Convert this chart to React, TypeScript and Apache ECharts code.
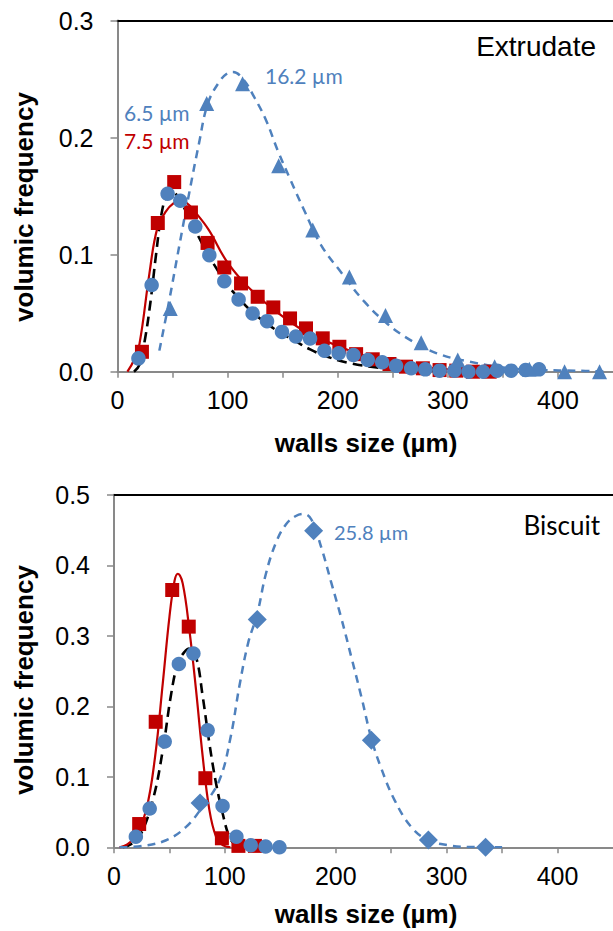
import React, { useEffect, useRef } from "react";
import * as echarts from "echarts";

// ---------- Top panel (Extrudate) ----------
const topCirclesX = [19, 31, 45.5, 57, 70.6, 83.4, 97, 110, 122.7, 135.8, 149.4, 162, 174.9, 187.9, 200.9, 214.3, 227.3, 240.4, 253, 266.7, 279.5, 292.5, 306, 318.8, 332, 344.8, 357.5, 370.6, 382.8];
const topCirclesY = [0.0114, 0.074, 0.152, 0.146, 0.124, 0.0995, 0.0773, 0.0617, 0.0498, 0.0432, 0.034, 0.03, 0.0283, 0.0179, 0.0157, 0.0142, 0.01, 0.008, 0.005, 0.0029, 0.002, 0.0009, 0.0009, 0, 0, 0.0009, 0.0009, 0.0014, 0.002];
const topSquaresX = [22.2, 36.6, 51.5, 66.7, 81.8, 97, 112.2, 127.3, 141.5, 156.7, 171.2, 186.4, 201.5, 216.7, 231.8, 247, 262, 277.3, 292.5, 307.7, 322.8, 338];
const topSquaresY = [0.017, 0.127, 0.162, 0.136, 0.11, 0.089, 0.0754, 0.064, 0.0549, 0.0455, 0.037, 0.0285, 0.0213, 0.015, 0.0106, 0.0066, 0.0043, 0.0029, 0.0014, 0.0009, 0, 0];
const topTrianglesX = [47.9, 81, 113.6, 146.4, 177.3, 210.6, 243.4, 275.8, 309, 342.5, 374, 406, 437.8];
const topTrianglesY = [0.054, 0.229, 0.246, 0.176, 0.121, 0.081, 0.048, 0.0247, 0.01, 0.0043, 0.002, 0, 0];

const topBlackCurve = [[15, 0], [20, 0.006], [25, 0.028], [30, 0.06], [35, 0.1], [40, 0.135], [45, 0.151], [50, 0.154], [55, 0.149], [60, 0.141], [70, 0.122], [80, 0.104], [90, 0.088], [100, 0.074], [110, 0.063], [120, 0.053], [130, 0.045], [145, 0.035], [160, 0.027], [175, 0.019], [190, 0.013], [210, 0.0075], [230, 0.0043], [250, 0.0025], [270, 0.0014], [300, 0.0005], [330, 0]];
const topRedCurve = [[9, 0], [15, 0.01], [20, 0.024], [29, 0.084], [36, 0.122], [44, 0.137], [51, 0.144], [57, 0.146], [63, 0.144], [70, 0.137], [83, 0.121], [98, 0.096], [113, 0.078], [128, 0.064], [146, 0.05], [164, 0.038], [180, 0.03], [200, 0.022], [220, 0.015], [240, 0.01], [260, 0.006], [280, 0.0035], [300, 0.002], [320, 0.001], [340, 0]];
const topBlueCurve = [[38, 0.018], [47, 0.061], [56, 0.107], [65, 0.152], [74, 0.195], [82, 0.229], [92, 0.247], [100, 0.255], [105, 0.256], [114, 0.25], [124.5, 0.234], [135, 0.2146], [145.5, 0.189], [157.5, 0.163], [169, 0.139], [185, 0.108], [203, 0.085], [224, 0.06], [245, 0.041], [266, 0.027], [290, 0.0157], [320, 0.0085], [356, 0.003], [386, 0.0014], [416, 0.0009], [444, 0]];

// ---------- Bottom panel (Biscuit) ----------
const botSquaresX = [22.7, 37.6, 52.5, 67.4, 82.4, 97.3, 112.2, 127.1];
const botSquaresY = [0.033, 0.178, 0.365, 0.313, 0.098, 0.0128, 0.002, 0.002];
const botCirclesX = [19.7, 32.2, 45.7, 58.5, 71.6, 84.4, 97.9, 110.4, 123.3, 136.7, 149.2];
const botCirclesY = [0.015, 0.055, 0.15, 0.26, 0.275, 0.166, 0.0586, 0.015, 0.003, 0.001, 0];
const botDiamondsX = [77.6, 129.2, 180, 232.1, 283.5, 335.1];
const botDiamondsY = [0.063, 0.323, 0.449, 0.152, 0.0104, 0];

const botRedCurve = [[5, 0], [12, 0.004], [19, 0.015], [29, 0.053], [37, 0.128], [44, 0.233], [50, 0.327], [54.6, 0.378], [57.6, 0.388], [62, 0.374], [68, 0.308], [74, 0.223], [80, 0.1285], [86, 0.053], [92, 0.015], [98, 0.003], [105, 0]];
const botBlackCurve = [[8, 0], [15, 0.004], [23, 0.015], [35, 0.067], [44, 0.138], [51.6, 0.218], [57.6, 0.261], [63.5, 0.277], [68, 0.282], [74, 0.27], [80, 0.214], [86, 0.1475], [92, 0.091], [98, 0.048], [104, 0.015], [110, 0.003], [116, 0]];
const botBlueCurve = [[5, 0], [26, 0.002], [47, 0.01], [65, 0.029], [80, 0.058], [95, 0.095], [105, 0.155], [113, 0.228], [121, 0.29], [129, 0.33], [137, 0.388], [146, 0.432], [155, 0.458], [164, 0.47], [171, 0.473], [178, 0.465], [187, 0.425], [196, 0.375], [205, 0.325], [214, 0.27], [223, 0.214], [232, 0.155], [241, 0.112], [253, 0.067], [268, 0.029], [283, 0.0104], [301, 0.003], [320, 0.0005], [350, 0]];

const xMax = 450;
const topYMax = 0.3;
const botYMax = 0.5;

const BLUE = "#4F81BD";
const RED = "#C00000";
const AXIS_GREY = "#898989";

const zip = (xs: number[], ys: number[]) => xs.map((x, i) => [x, ys[i]]);

export default function App() {
  const ref = useRef<HTMLDivElement>(null);
  useEffect(() => {
    if (!ref.current) return;
    const chart = echarts.init(ref.current, null, { renderer: "svg" });

    const mkX = (gridIndex: number) => ({
      type: "value",
      gridIndex,
      min: 0,
      max: xMax,
      interval: 50,
      axisLine: { show: true, onZero: false, lineStyle: { color: AXIS_GREY, width: 2 } },
      axisTick: { show: true, inside: false, length: 6, lineStyle: { color: AXIS_GREY, width: 1.5 } },
      axisLabel: {
        margin: 16,
        fontFamily: "Liberation Sans",
        fontSize: 25,
        color: "#000",
        formatter: (v: number) => (v % 100 === 0 && v < 450 ? String(v) : ""),
        showMaxLabel: false,
      },
      splitLine: { show: false },
    });
    const mkTopBorder = (gridIndex: number) => ({
      type: "value",
      gridIndex,
      position: "top",
      min: 0,
      max: xMax,
      axisLine: { show: true, onZero: false, lineStyle: { color: "#000", width: 2 } },
      axisTick: { show: false },
      axisLabel: { show: false },
      splitLine: { show: false },
    });
    const mkY = (gridIndex: number, max: number) => ({
      type: "value",
      gridIndex,
      min: 0,
      max,
      interval: 0.1,
      axisLine: { show: true, onZero: false, lineStyle: { color: AXIS_GREY, width: 2 } },
      axisTick: { show: true, inside: false, length: 7, lineStyle: { color: AXIS_GREY, width: 1.5 } },
      axisLabel: {
        margin: 24,
        fontFamily: "Liberation Sans",
        fontSize: 25,
        color: "#000",
        formatter: (v: number) => v.toFixed(1),
      },
      splitLine: { show: false },
    });

    const curve = (data: number[][], xi: number, color: string, type: any, width: number) => ({
      type: "line",
      xAxisIndex: xi,
      yAxisIndex: xi === 0 ? 0 : 1,
      data,
      smooth: 0.4,
      showSymbol: false,
      symbol: "none",
      lineStyle: { color, type, width },
      z: 2,
      silent: true,
    });
    const marks = (data: number[][], xi: number, color: string, symbol: string, size: number) => ({
      type: "scatter",
      xAxisIndex: xi,
      yAxisIndex: xi === 0 ? 0 : 1,
      data,
      symbol,
      symbolSize: size,
      itemStyle: { color, opacity: 1 },
      z: 3,
      silent: true,
    });

    const txt = (text: string, x: number, y: number, font: string, fill: string, align: string, rotation = 0) => ({
      type: "text",
      x,
      y,
      rotation,
      silent: true,
      style: {
        text,
        x: 0,
        y: 0,
        font,
        fill,
        align,
        textAlign: align,
        verticalAlign: "middle",
        textVerticalAlign: "middle",
      },
    });

    chart.setOption({
      animation: false,
      grid: [
        { left: 117.5, top: 20.5, width: 499.5, height: 351.2, containLabel: false },
        { left: 114, top: 494.8, width: 502.6, height: 352.5, containLabel: false },
      ],
      xAxis: [mkX(0), mkX(1), mkTopBorder(0), mkTopBorder(1)],
      yAxis: [mkY(0, topYMax), mkY(1, botYMax)],
      series: [
        curve(topBlackCurve, 0, "#000", [10, 6], 2.6),
        curve(topRedCurve, 0, RED, "solid", 2.2),
        curve(topBlueCurve, 0, BLUE, [8, 6], 2.5),
        marks(zip(topSquaresX, topSquaresY), 0, RED, "rect", 14),
        marks(zip(topCirclesX, topCirclesY), 0, BLUE, "circle", 14.5),
        marks(zip(topTrianglesX, topTrianglesY), 0, BLUE, "triangle", 15),
        curve(botBlackCurve, 1, "#000", [10, 6], 2.6),
        curve(botRedCurve, 1, RED, "solid", 2.2),
        curve(botBlueCurve, 1, BLUE, [8, 6], 2.5),
        marks(zip(botSquaresX, botSquaresY), 1, RED, "rect", 14),
        marks(zip(botCirclesX, botCirclesY), 1, BLUE, "circle", 14.5),
        marks(zip(botDiamondsX, botDiamondsY), 1, BLUE, "diamond", 19),
      ],
      graphic: [
        txt("volumic frequency", 24, 207, "bold 26px 'Liberation Sans'", "#000", "center", Math.PI / 2),
        txt("volumic frequency", 24, 680, "bold 26px 'Liberation Sans'", "#000", "center", Math.PI / 2),
        txt("walls size (µm)", 366, 443, "bold 26px 'Liberation Sans'", "#000", "center"),
        txt("walls size (µm)", 366, 914, "bold 26px 'Liberation Sans'", "#000", "center"),
        txt("Extrudate", 596, 46, "28px 'Liberation Sans'", "#000", "right"),
        txt("Biscuit", 600, 525, "26px Lato", "#000", "right"),
        txt("6.5 µm", 124, 112, "21px Lato", BLUE, "left"),
        txt("7.5 µm", 124, 140, "21px Lato", RED, "left"),
        txt("16.2 µm", 265, 75, "21px Lato", BLUE, "left"),
        txt("25.8 µm", 334, 532, "20px Lato", BLUE, "left"),
      ],
    });
    return () => chart.dispose();
  }, []);
  return (
    <div
      ref={ref}
      style={{ position: "absolute", left: 0, top: 0, width: 613, height: 931, overflow: "hidden" }}
    />
  );
}
